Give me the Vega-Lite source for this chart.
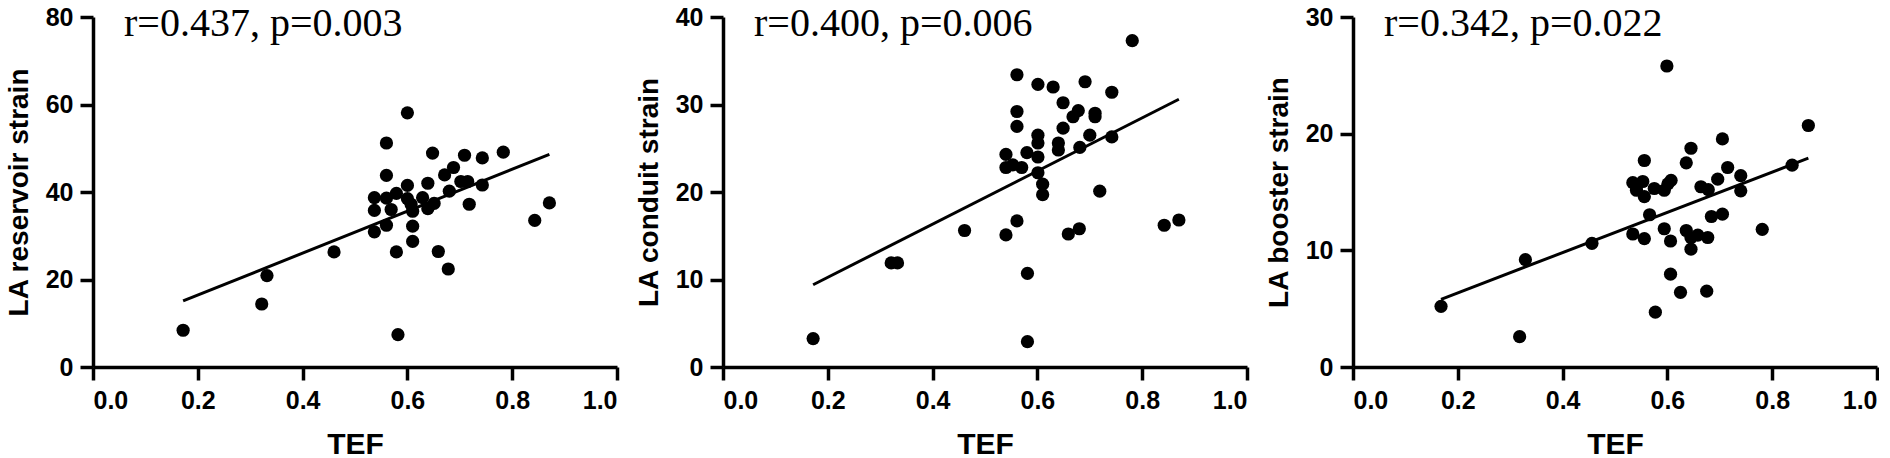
{
  "$schema": "https://vega.github.io/schema/vega-lite/v6.json",
  "background": "white",
  "padding": {"left": 5, "top": 4, "right": 0, "bottom": 0},
  "config": {
    "view": {"stroke": null},
    "axis": {
      "grid": false,
      "domainColor": "black",
      "domainWidth": 3.5,
      "tickColor": "black",
      "tickWidth": 3.5,
      "tickSize": 13,
      "labelFont": "Liberation Sans",
      "labelFontWeight": "bold",
      "labelFontSize": 25,
      "labelColor": "black",
      "labelPadding": 7,
      "titleFont": "Liberation Sans",
      "titleFontWeight": "bold",
      "titleColor": "black"
    },
    "axisX": {"labelPadding": 8, "titleFontSize": 30, "titlePadding": 16},
    "axisY": {"titleFontSize": 28, "titlePadding": 12},
    "title": {
      "font": "Liberation Serif",
      "fontSize": 40,
      "fontWeight": "normal",
      "color": "black",
      "anchor": "start",
      "frame": "group",
      "dx": 31,
      "offset": -39
    }
  },
  "datasets": {
    "reservoir": [
      {"TEF": 0.172, "strain": 8.4}, {"TEF": 0.322, "strain": 14.4}, {"TEF": 0.332, "strain": 20.9},
      {"TEF": 0.460, "strain": 26.3}, {"TEF": 0.537, "strain": 38.7}, {"TEF": 0.537, "strain": 35.8},
      {"TEF": 0.537, "strain": 30.9}, {"TEF": 0.560, "strain": 51.2}, {"TEF": 0.560, "strain": 43.8},
      {"TEF": 0.560, "strain": 38.6}, {"TEF": 0.560, "strain": 32.4}, {"TEF": 0.569, "strain": 36.0},
      {"TEF": 0.579, "strain": 39.7}, {"TEF": 0.579, "strain": 26.3}, {"TEF": 0.582, "strain": 7.4},
      {"TEF": 0.600, "strain": 58.1}, {"TEF": 0.600, "strain": 41.5}, {"TEF": 0.600, "strain": 38.5},
      {"TEF": 0.607, "strain": 37.2}, {"TEF": 0.610, "strain": 35.6}, {"TEF": 0.610, "strain": 32.2},
      {"TEF": 0.610, "strain": 28.7}, {"TEF": 0.629, "strain": 38.7}, {"TEF": 0.639, "strain": 42.0},
      {"TEF": 0.639, "strain": 36.2}, {"TEF": 0.648, "strain": 48.9}, {"TEF": 0.651, "strain": 37.4},
      {"TEF": 0.659, "strain": 26.4}, {"TEF": 0.671, "strain": 43.9}, {"TEF": 0.678, "strain": 22.4},
      {"TEF": 0.680, "strain": 40.2}, {"TEF": 0.688, "strain": 45.6}, {"TEF": 0.702, "strain": 42.4},
      {"TEF": 0.709, "strain": 48.4}, {"TEF": 0.715, "strain": 42.4}, {"TEF": 0.718, "strain": 37.2},
      {"TEF": 0.743, "strain": 47.8}, {"TEF": 0.743, "strain": 41.6}, {"TEF": 0.783, "strain": 49.1},
      {"TEF": 0.843, "strain": 33.5}, {"TEF": 0.871, "strain": 37.5}
    ],
    "reservoirFit": [{"TEF": 0.172, "strain": 15.1}, {"TEF": 0.871, "strain": 48.6}],
    "conduit": [
      {"TEF": 0.172, "strain": 3.25}, {"TEF": 0.321, "strain": 11.9}, {"TEF": 0.333, "strain": 11.9},
      {"TEF": 0.461, "strain": 15.6}, {"TEF": 0.540, "strain": 15.1}, {"TEF": 0.561, "strain": 16.7},
      {"TEF": 0.581, "strain": 10.7}, {"TEF": 0.581, "strain": 2.9}, {"TEF": 0.561, "strain": 33.4},
      {"TEF": 0.561, "strain": 29.2}, {"TEF": 0.561, "strain": 27.5}, {"TEF": 0.540, "strain": 24.3},
      {"TEF": 0.540, "strain": 22.8}, {"TEF": 0.553, "strain": 23.1}, {"TEF": 0.570, "strain": 22.8},
      {"TEF": 0.580, "strain": 24.5}, {"TEF": 0.601, "strain": 32.3}, {"TEF": 0.601, "strain": 26.5},
      {"TEF": 0.601, "strain": 25.6}, {"TEF": 0.601, "strain": 24.0}, {"TEF": 0.601, "strain": 22.2},
      {"TEF": 0.610, "strain": 20.9}, {"TEF": 0.610, "strain": 19.7}, {"TEF": 0.630, "strain": 32.0},
      {"TEF": 0.649, "strain": 30.2}, {"TEF": 0.649, "strain": 27.3}, {"TEF": 0.640, "strain": 25.6},
      {"TEF": 0.640, "strain": 24.8}, {"TEF": 0.659, "strain": 15.2}, {"TEF": 0.668, "strain": 28.6},
      {"TEF": 0.678, "strain": 29.3}, {"TEF": 0.681, "strain": 25.1}, {"TEF": 0.680, "strain": 15.8},
      {"TEF": 0.691, "strain": 32.6}, {"TEF": 0.700, "strain": 26.5}, {"TEF": 0.710, "strain": 29.0},
      {"TEF": 0.710, "strain": 28.6}, {"TEF": 0.719, "strain": 20.1}, {"TEF": 0.742, "strain": 31.4},
      {"TEF": 0.742, "strain": 26.3}, {"TEF": 0.781, "strain": 37.3}, {"TEF": 0.842, "strain": 16.2},
      {"TEF": 0.870, "strain": 16.8}
    ],
    "conduitFit": [{"TEF": 0.172, "strain": 9.4}, {"TEF": 0.870, "strain": 30.6}],
    "booster": [
      {"TEF": 0.168, "strain": 5.2}, {"TEF": 0.318, "strain": 2.6}, {"TEF": 0.329, "strain": 9.2},
      {"TEF": 0.456, "strain": 10.6}, {"TEF": 0.534, "strain": 15.8}, {"TEF": 0.541, "strain": 15.15},
      {"TEF": 0.553, "strain": 15.9}, {"TEF": 0.556, "strain": 14.6}, {"TEF": 0.556, "strain": 17.7},
      {"TEF": 0.575, "strain": 15.3}, {"TEF": 0.594, "strain": 15.15}, {"TEF": 0.601, "strain": 15.7},
      {"TEF": 0.607, "strain": 16.0}, {"TEF": 0.534, "strain": 11.4}, {"TEF": 0.556, "strain": 11.0},
      {"TEF": 0.566, "strain": 13.05}, {"TEF": 0.577, "strain": 4.7}, {"TEF": 0.599, "strain": 25.8},
      {"TEF": 0.594, "strain": 11.85}, {"TEF": 0.606, "strain": 10.8}, {"TEF": 0.606, "strain": 7.96},
      {"TEF": 0.625, "strain": 6.4}, {"TEF": 0.636, "strain": 17.5}, {"TEF": 0.636, "strain": 11.7},
      {"TEF": 0.645, "strain": 18.75}, {"TEF": 0.645, "strain": 11.1}, {"TEF": 0.658, "strain": 11.3},
      {"TEF": 0.645, "strain": 10.1}, {"TEF": 0.664, "strain": 15.45}, {"TEF": 0.678, "strain": 15.2},
      {"TEF": 0.677, "strain": 11.1}, {"TEF": 0.675, "strain": 6.5}, {"TEF": 0.684, "strain": 12.9},
      {"TEF": 0.696, "strain": 16.1}, {"TEF": 0.705, "strain": 19.55}, {"TEF": 0.705, "strain": 13.1},
      {"TEF": 0.715, "strain": 17.1}, {"TEF": 0.740, "strain": 16.4}, {"TEF": 0.740, "strain": 15.1},
      {"TEF": 0.781, "strain": 11.8}, {"TEF": 0.838, "strain": 17.3}, {"TEF": 0.869, "strain": 20.7}
    ],
    "boosterFit": [{"TEF": 0.168, "strain": 5.8}, {"TEF": 0.869, "strain": 17.9}]
  },
  "bounds": "flush",
  "spacing": 106,
  "hconcat": [
    {
      "width": 524,
      "height": 350,
      "title": "r=0.437, p=0.003",
      "layer": [
        {
          "data": {"name": "reservoir"},
          "mark": {"type": "circle", "size": 175, "color": "black", "opacity": 1},
          "encoding": {
            "x": {"field": "TEF", "type": "quantitative", "scale": {"domain": [0, 1], "nice": false},
                  "axis": {"values": [0, 0.2, 0.4, 0.6, 0.8, 1], "format": ".1f", "title": "TEF"}},
            "y": {"field": "strain", "type": "quantitative", "scale": {"domain": [0, 80], "nice": false},
                  "axis": {"values": [0, 20, 40, 60, 80], "title": "LA reservoir strain"}}
          }
        },
        {
          "data": {"name": "reservoirFit"},
          "mark": {"type": "line", "color": "black", "strokeWidth": 3},
          "encoding": {
            "x": {"field": "TEF", "type": "quantitative"},
            "y": {"field": "strain", "type": "quantitative"}
          }
        }
      ]
    },
    {
      "width": 524,
      "height": 350,
      "title": "r=0.400, p=0.006",
      "layer": [
        {
          "data": {"name": "conduit"},
          "mark": {"type": "circle", "size": 175, "color": "black", "opacity": 1},
          "encoding": {
            "x": {"field": "TEF", "type": "quantitative", "scale": {"domain": [0, 1], "nice": false},
                  "axis": {"values": [0, 0.2, 0.4, 0.6, 0.8, 1], "format": ".1f", "title": "TEF"}},
            "y": {"field": "strain", "type": "quantitative", "scale": {"domain": [0, 40], "nice": false},
                  "axis": {"values": [0, 10, 20, 30, 40], "title": "LA conduit strain"}}
          }
        },
        {
          "data": {"name": "conduitFit"},
          "mark": {"type": "line", "color": "black", "strokeWidth": 3},
          "encoding": {
            "x": {"field": "TEF", "type": "quantitative"},
            "y": {"field": "strain", "type": "quantitative"}
          }
        }
      ]
    },
    {
      "width": 524,
      "height": 350,
      "title": "r=0.342, p=0.022",
      "layer": [
        {
          "data": {"name": "booster"},
          "mark": {"type": "circle", "size": 175, "color": "black", "opacity": 1},
          "encoding": {
            "x": {"field": "TEF", "type": "quantitative", "scale": {"domain": [0, 1], "nice": false},
                  "axis": {"values": [0, 0.2, 0.4, 0.6, 0.8, 1], "format": ".1f", "title": "TEF"}},
            "y": {"field": "strain", "type": "quantitative", "scale": {"domain": [0, 30], "nice": false},
                  "axis": {"values": [0, 10, 20, 30], "title": "LA booster strain"}}
          }
        },
        {
          "data": {"name": "boosterFit"},
          "mark": {"type": "line", "color": "black", "strokeWidth": 3},
          "encoding": {
            "x": {"field": "TEF", "type": "quantitative"},
            "y": {"field": "strain", "type": "quantitative"}
          }
        }
      ]
    }
  ]
}
